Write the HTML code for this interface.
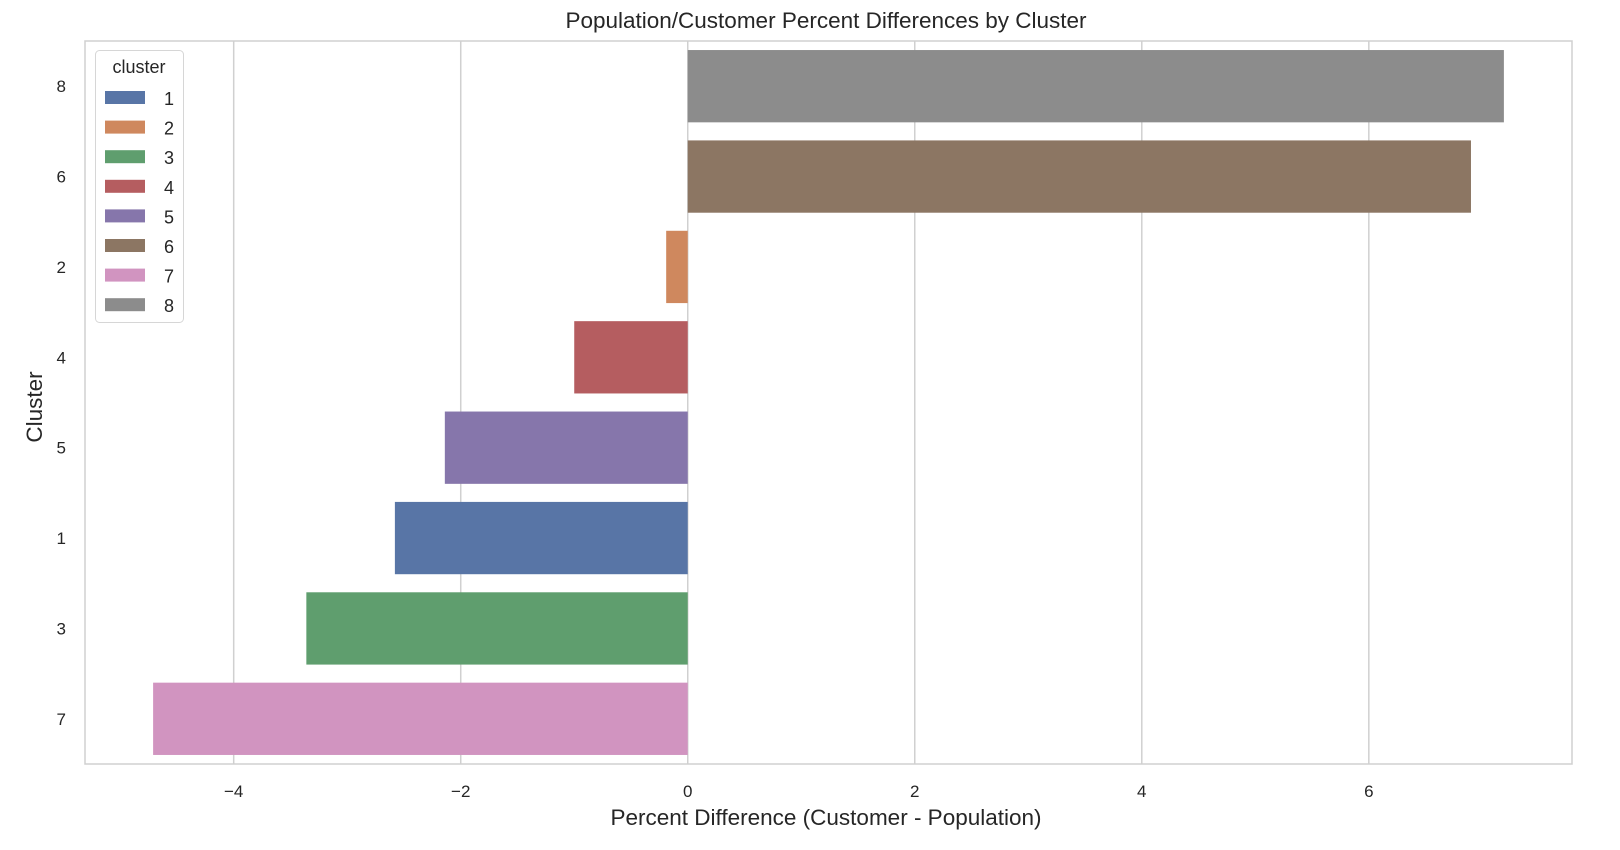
<!DOCTYPE html>
<html><head><meta charset="utf-8"><style>
body{margin:0;background:#fff;}
svg{display:block;font-family:"Liberation Sans",Arial,sans-serif;}
</style></head><body>
<svg id="chart" width="1620" height="850" viewBox="0 0 1620 850" xmlns="http://www.w3.org/2000/svg">
<text x="826" y="28" text-anchor="middle" font-size="22.5" fill="#262626">Population/Customer Percent Differences by Cluster</text>
<g id="grid"></g>
<g id="bars"></g>
<rect x="85" y="41" width="1487" height="723" fill="none" stroke="#d0d0d0" stroke-width="1.5"/>
<g id="xticks"></g>
<g id="yticks"></g>
<text x="826" y="825" text-anchor="middle" font-size="22.5" fill="#262626">Percent Difference (Customer - Population)</text>
<text transform="translate(42,407) rotate(-90)" text-anchor="middle" font-size="22.5" fill="#262626">Cluster</text>
<g id="legend"></g>
</svg>
<script>
const categories = ["8","6","2","4","5","1","3","7"];
const values = [7.19, 6.90, -0.19, -1.00, -2.14, -2.58, -3.36, -4.71];
const xTicks = [-4, -2, 0, 2, 4, 6];
const legendLabels = ["1","2","3","4","5","6","7","8"];
const colors = {"1":"#5875a6","2":"#cf885e","3":"#5f9e6e","4":"#b55d60","5":"#8676ab","6":"#8c7663","7":"#d194c0","8":"#8c8c8c"};

const NS = "http://www.w3.org/2000/svg";
const L = 85, R = 1572, T = 41, B = 764, xMin = -5.31, xMax = 7.79;
const xs = v => L + (v - xMin) / (xMax - xMin) * (R - L);
const band = (B - T) / categories.length;
const yc = i => T + band * (i + 0.5);
function mk(tag, attrs, parent){const e=document.createElementNS(NS,tag);for(const k in attrs)e.setAttribute(k,attrs[k]);parent.appendChild(e);return e;}

const grid = document.getElementById('grid');
const xt = document.getElementById('xticks');
xTicks.forEach(t => {
  const g = mk('line',{x1:xs(t),x2:xs(t),y1:T,y2:B,stroke:'#d0d0d0','stroke-width':1.5},grid);
  
  
  const tx = mk('text',{x:xs(t),y:797,'text-anchor':'middle','font-size':17,fill:'#262626'},xt);
  tx.textContent = t < 0 ? '\u2212' + Math.abs(t) : String(t);
  
  
});
const bars = document.getElementById('bars');
const yt = document.getElementById('yticks');
categories.forEach((c, i) => {
  const v = values[i];
  const x0 = Math.min(xs(0), xs(v)), w = Math.abs(xs(v) - xs(0));
  const r = mk('rect',{x:x0,y:yc(i)-band*0.4,width:w,height:band*0.8,fill:colors[c]},bars);
  
  
  const tx = mk('text',{x:66,y:yc(i)+6,'text-anchor':'end','font-size':17,fill:'#262626'},yt);
  tx.textContent = c;
  
  
});
const lg = document.getElementById('legend');
mk('rect',{x:95.5,y:50.5,width:88,height:272,rx:4,fill:'#fff','fill-opacity':0.8,stroke:'#d6d6d6'},lg);
const lt = mk('text',{x:139,y:73,'text-anchor':'middle','font-size':18,fill:'#262626'},lg);
lt.textContent = 'cluster';


legendLabels.forEach((l, i) => {
  const y = 98 + i * 29.6;
  const p = mk('rect',{x:105,y:y-7,width:40,height:13,fill:colors[l]},lg);
  
  
  const tx = mk('text',{x:164,y:y+7,'font-size':18,fill:'#262626'},lg);
  tx.textContent = l;
  
  
});
</script>
</body></html>
